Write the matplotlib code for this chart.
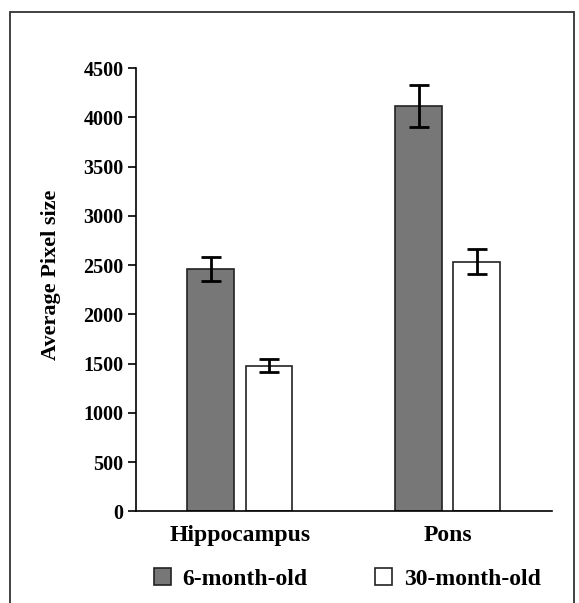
import matplotlib
matplotlib.use("Agg")
import matplotlib.pyplot as plt
from matplotlib.patches import Rectangle
import numpy as np

categories = ["Hippocampus", "Pons"]
series_names = ["6-month-old", "30-month-old"]
young = [2460, 4115]
young_err = [123, 210]
old = [1480, 2535]
old_err = [70, 130]
yticks = [0, 500, 1000, 1500, 2000, 2500, 3000, 3500, 4000, 4500]

plt.rcParams['font.family'] = ['Liberation Serif', 'DejaVu Serif']
plt.rcParams['font.weight'] = 'bold'

fig = plt.figure(figsize=(5.79, 6.03), dpi=100)
fig.patch.set_facecolor('white')
# outer frame
fig.patches.append(Rectangle((9.5/579, -0.05), (573.5-9.5)/579, 1.05 - 12/603,
                             transform=fig.transFigure, fill=False,
                             edgecolor='#333333', linewidth=1.3))

ax = fig.add_axes([136/579, 1-511.3/603, (551.7-136)/579, (511.3-68)/603])
x = np.arange(len(categories))
w = 0.225
ekw = dict(elinewidth=2.0, capthick=2.0, ecolor='black')
ax.bar(x - 0.14, young, width=w, color='#777777', edgecolor='#222222', linewidth=1.2,
       yerr=young_err, capsize=7, error_kw=ekw, label=series_names[0], zorder=2)
ax.bar(x + 0.14, old, width=w, color='white', edgecolor='#222222', linewidth=1.2,
       yerr=old_err, capsize=7, error_kw=ekw, label=series_names[1], zorder=2)

ax.set_xlim(-0.5, 1.5)
ax.set_ylim(0, 4500)
ax.set_yticks(yticks)
ax.set_yticklabels([str(t) for t in yticks], fontsize=14.5, fontweight='bold')
ax.set_xticks(x)
ax.set_xticklabels(categories, fontsize=17, fontweight='bold')
ax.tick_params(axis='x', length=0, pad=10)
ax.tick_params(axis='y', length=6, width=1.2, pad=3, direction='out')
for s in ['top', 'right']:
    ax.spines[s].set_visible(False)
ax.spines['left'].set_linewidth(1.2)
ax.spines['bottom'].set_linewidth(1.2)
ax.set_ylabel("Average Pixel size", fontsize=16, fontweight='bold')
ax.yaxis.set_label_coords((61 - 136) / (551.7 - 136), (511.3 - 275) / (511.3 - 68))

leg = fig.legend(loc='center', bbox_to_anchor=(0.6, 1-579/603), ncol=2, frameon=False,
                 handlelength=0.72, handleheight=0.72, handletextpad=0.5,
                 columnspacing=2.86, prop={'weight': 'bold', 'size': 17})

fig.savefig("out.png", dpi=100, facecolor='white')
